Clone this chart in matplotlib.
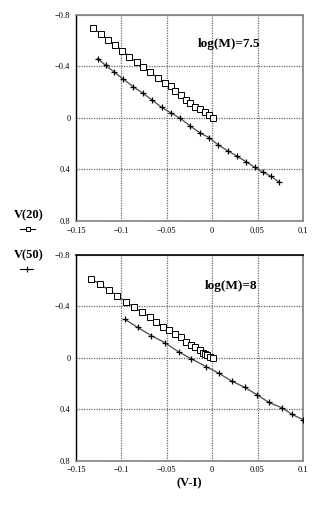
import matplotlib
matplotlib.use("Agg")
import matplotlib.pyplot as plt
from matplotlib.lines import Line2D
from matplotlib.ticker import FuncFormatter

plt.rcParams["font.family"] = ["Liberation Serif", "DejaVu Serif"]

# log(M)=7.5 panel
top_v20_x = [-0.1315, -0.1228, -0.1149, -0.1069, -0.0989, -0.0913, -0.0833, -0.0757,
             -0.0681, -0.0601, -0.0525, -0.0449, -0.0409, -0.0344, -0.0290, -0.0239,
             -0.0185, -0.0134, -0.0083, -0.0040, 0.0004]
top_v20_y = [-0.699, -0.655, -0.606, -0.567, -0.523, -0.476, -0.432, -0.394,
             -0.355, -0.311, -0.272, -0.246, -0.212, -0.179, -0.142, -0.114,
             -0.088, -0.067, -0.044, -0.021, 0.0]
top_v50_x = [-0.1261, -0.1174, -0.1080, -0.0982, -0.0870, -0.0764, -0.0663, -0.0558,
             -0.0453, -0.0351, -0.0243, -0.0138, -0.0033, 0.0069, 0.0170, 0.0275,
             0.0373, 0.0467, 0.0562, 0.0649, 0.0736]
top_v50_y = [-0.461, -0.409, -0.357, -0.303, -0.243, -0.192, -0.140, -0.083,
             -0.039, 0.003, 0.062, 0.114, 0.153, 0.210, 0.254, 0.298,
             0.339, 0.383, 0.422, 0.453, 0.497]

# log(M)=8 panel
bot_v20_x = [-0.1333, -0.1236, -0.1141, -0.1043, -0.0953, -0.0859, -0.0775, -0.0681,
             -0.0616, -0.0540, -0.0471, -0.0409, -0.0344, -0.0283, -0.0236, -0.0192,
             -0.0138, -0.0105, -0.0080, -0.0054, -0.0025, 0.0004]
bot_v20_y = [-0.614, -0.575, -0.528, -0.484, -0.438, -0.394, -0.355, -0.316,
             -0.282, -0.243, -0.217, -0.186, -0.161, -0.127, -0.101, -0.083,
             -0.062, -0.041, -0.031, -0.021, -0.010, 0.0]
bot_v50_x = [-0.0960, -0.0822, -0.0670, -0.0518, -0.0370, -0.0228, -0.0069, 0.0072,
             0.0217, 0.0362, 0.0493, 0.0627, 0.0768, 0.0880, 0.1000]
bot_v50_y = [-0.300, -0.238, -0.173, -0.117, -0.047, 0.008, 0.067, 0.119,
             0.181, 0.230, 0.287, 0.347, 0.388, 0.440, 0.480]

x_ticks = [-0.15, -0.1, -0.05, 0, 0.05, 0.1]
y_ticks = [-0.8, -0.4, 0, 0.4, 0.8]
panel_labels = ["log(M)=7.5", "log(M)=8"]


def fmt(v, pos):
    if abs(v) < 1e-9:
        return "0"
    return ("%g" % v).replace("-", "\u2212")


fig = plt.figure(figsize=(3.27, 5.14), dpi=100)
ax_top = fig.add_axes([0.2324, 0.570, 0.694, 0.401])
ax_bot = fig.add_axes([0.2324, 0.1037, 0.694, 0.400])

panels = [
    (ax_top, top_v20_x, top_v20_y, top_v50_x, top_v50_y, panel_labels[0], (0.674, 0.859), "#808080"),
    (ax_bot, bot_v20_x, bot_v20_y, bot_v50_x, bot_v50_y, panel_labels[1], (0.683, 0.851), "black"),
]

for ax, x20, y20, x50, y50, label, pos, top_col in panels:
    ax.plot(x50, y50, color="#4a4a4a", lw=0.9, marker="+", ms=4,
            mec="black", mew=0.9, zorder=3)
    ax.plot(x20, y20, color="#333333", lw=0.8, marker="s", ms=3.8,
            mfc="white", mec="black", mew=0.7, zorder=4)
    ax.set_xlim(-0.15, 0.1)
    ax.set_ylim(0.8, -0.8)
    ax.set_xticks(x_ticks)
    ax.set_yticks(y_ticks)
    ax.xaxis.set_major_formatter(FuncFormatter(fmt))
    ax.yaxis.set_major_formatter(FuncFormatter(fmt))
    ax.tick_params(length=0, labelsize=6, pad=4)
    ax.grid(True, color="#666666", linestyle=(0, (1, 1)), linewidth=0.9)
    for side in ["right", "bottom"]:
        ax.spines[side].set_color("#808080")
        ax.spines[side].set_linewidth(1.2)
    ax.spines["top"].set_color(top_col)
    ax.spines["top"].set_linewidth(1.2)
    ax.spines["left"].set_color("black")
    ax.spines["left"].set_linewidth(1.0)
    ax.text(pos[0], pos[1], label, transform=ax.transAxes, ha="center", va="center",
            fontsize=9.5, fontweight="bold")

ax_bot.set_xlabel("(V-I)", fontsize=9, fontweight="bold", labelpad=2)

# legend in the left margin
fig.text(0.089, 0.582, "V(20)", ha="center", va="center", fontsize=9, fontweight="bold")
fig.add_artist(Line2D([0.061, 0.107], [0.554, 0.554], color="black", lw=0.8))
fig.add_artist(Line2D([0.086], [0.554], color="black", marker="s", ms=3,
                      mfc="white", mec="black", mew=0.7))
fig.text(0.089, 0.504, "V(50)", ha="center", va="center", fontsize=9, fontweight="bold")
fig.add_artist(Line2D([0.061, 0.101], [0.477, 0.477], color="black", lw=0.8))
fig.add_artist(Line2D([0.083], [0.477], color="black", marker="+", ms=4, mew=0.8))

fig.savefig("out.png", dpi=100)
